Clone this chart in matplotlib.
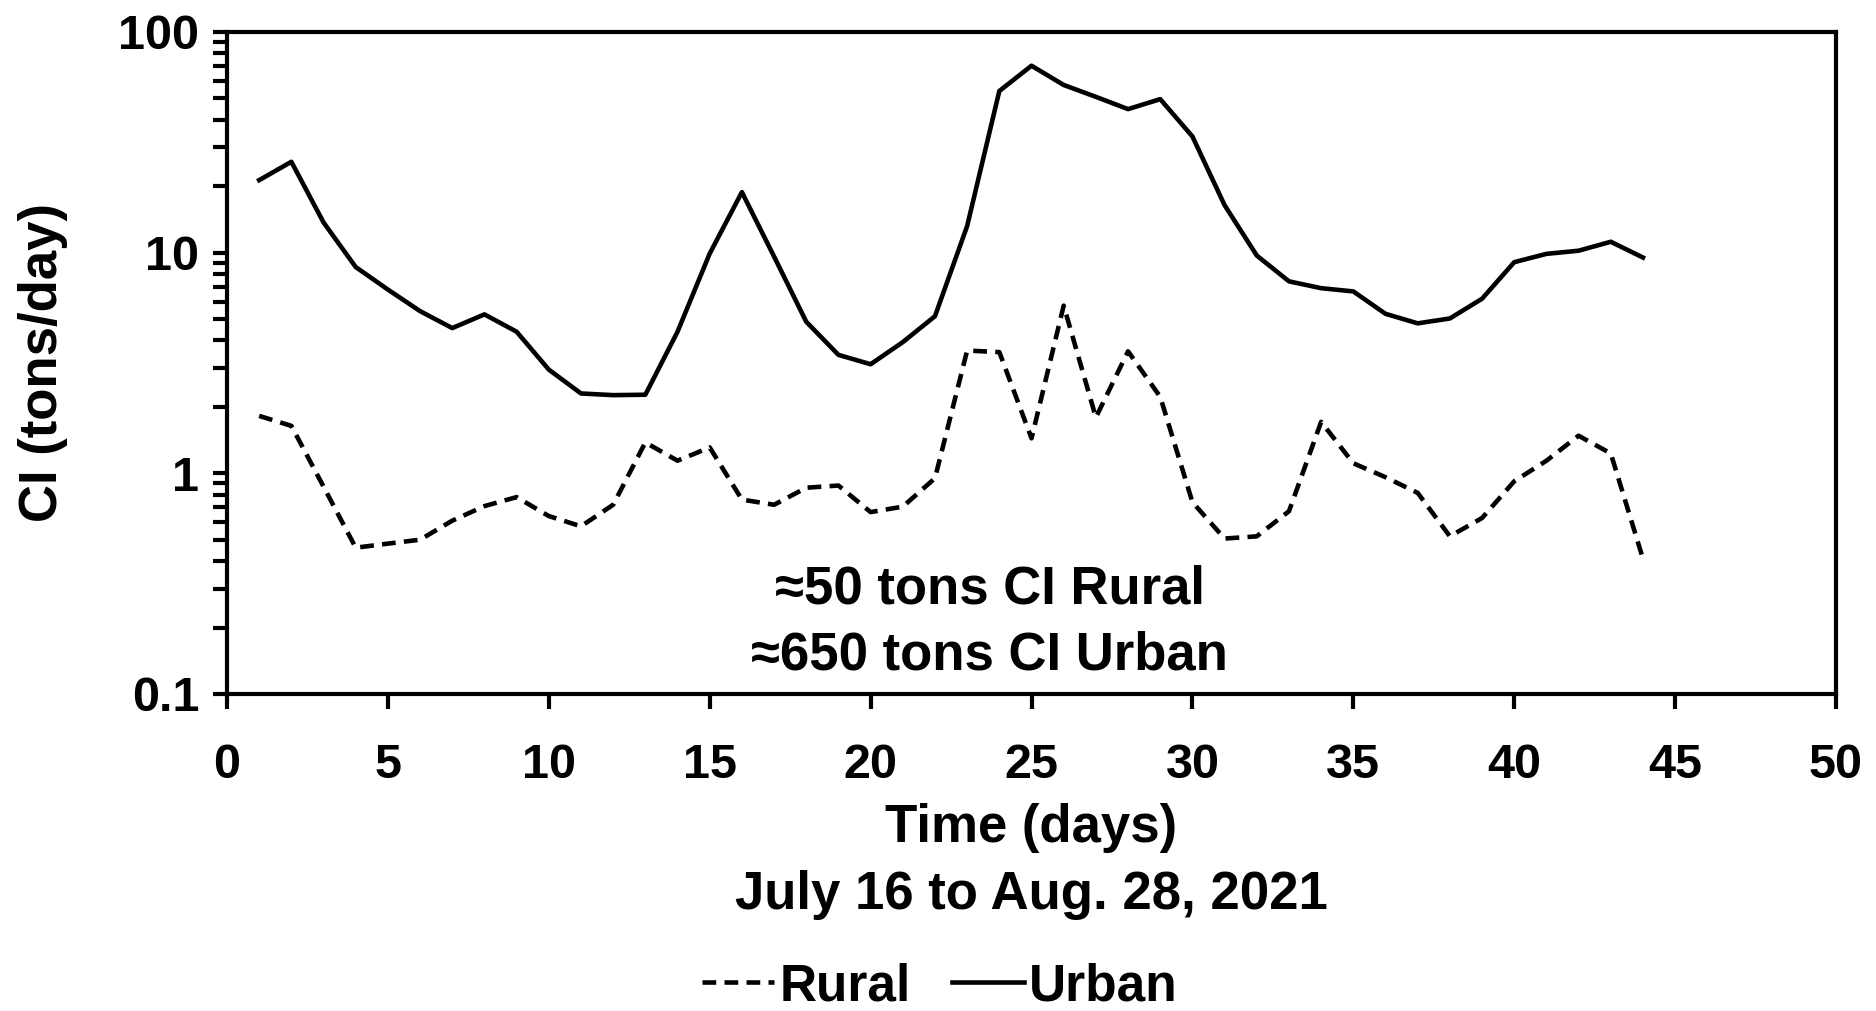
import matplotlib
matplotlib.use("Agg")
import matplotlib.pyplot as plt
from matplotlib.ticker import LogLocator, FixedLocator, NullFormatter

# Donnees (tons/day)
days = list(range(1, 45))
urban = [21.3, 25.8, 13.7, 8.6, 6.8, 5.43, 4.55, 5.25, 4.38, 2.95,
         2.30, 2.26, 2.27, 4.38, 9.9, 18.8, 9.6, 4.86, 3.44, 3.12,
         3.93, 5.15, 13.2, 54.0, 70.3, 57.5, 50.8, 44.7, 49.6, 33.6,
         16.4, 9.7, 7.41, 6.9, 6.67, 5.28, 4.78, 5.03, 6.18, 9.05,
         9.87, 10.2, 11.2, 9.5]
rural = [1.82, 1.64, 0.87, 0.46, 0.48, 0.50, 0.61, 0.71, 0.78, 0.64,
         0.575, 0.72, 1.38, 1.14, 1.31, 0.76, 0.72, 0.86, 0.88, 0.667,
         0.706, 0.95, 3.6, 3.54, 1.44, 5.75, 1.79, 3.57, 2.22, 0.74,
         0.506, 0.518, 0.673, 1.71, 1.11, 0.96, 0.815, 0.518, 0.627, 0.92,
         1.14, 1.48, 1.23, 0.41]
y_ticks = [0.1, 1, 10, 100]
y_tick_labels = ["0.1", "1", "10", "100"]
x_ticks = list(range(0, 51, 5))

plt.rcParams['font.family'] = ['Liberation Sans', 'DejaVu Sans']
plt.rcParams['font.weight'] = 'bold'
fs_tick = 35
fs = 38

fig = plt.figure(figsize=(18.76, 10.11), dpi=100)
ax = fig.add_axes([0.121, 0.3136, 0.8577, 0.6548])

ax.plot(days, rural, color='black', lw=3.3, linestyle=(0, (3.0, 1.8)), label='Rural')
ax.plot(days, urban, color='black', lw=3.3, linestyle='-', label='Urban')

ax.set_yscale('log')
ax.set_ylim(0.1, 100)
ax.set_xlim(0, 50)
ax.yaxis.set_major_locator(FixedLocator(y_ticks))
ax.set_yticklabels(y_tick_labels)
ax.yaxis.set_minor_locator(LogLocator(base=10, subs=range(2, 10)))
ax.yaxis.set_minor_formatter(NullFormatter())
ax.set_xticks(x_ticks)

for s in ax.spines.values():
    s.set_linewidth(3)
ax.tick_params(axis='both', which='both', direction='out', width=3, labelsize=fs_tick)
ax.tick_params(axis='y', which='both', length=10, pad=10)
ax.tick_params(axis='x', which='major', length=11, pad=24)

ax.set_xlabel('Time (days)\nJuly 16 to Aug. 28, 2021', fontsize=fs, fontweight='bold',
              linespacing=1.43, labelpad=11)
ax.set_ylabel('CI (tons/day)', fontsize=fs, fontweight='bold', labelpad=36)

ax.text(0.474, 0.108, '\u224850 tons CI Rural\n\u2248650 tons CI Urban',
        transform=ax.transAxes, ha='center', va='center', fontsize=fs,
        fontweight='bold', linespacing=1.4)

fig.legend(loc='center', bbox_to_anchor=(0.501, 0.024), ncol=2, frameon=False,
           fontsize=37, handlelength=1.4, handletextpad=0.1, columnspacing=0.8,
           borderpad=0.1)

fig.savefig('out.png', dpi=100)
